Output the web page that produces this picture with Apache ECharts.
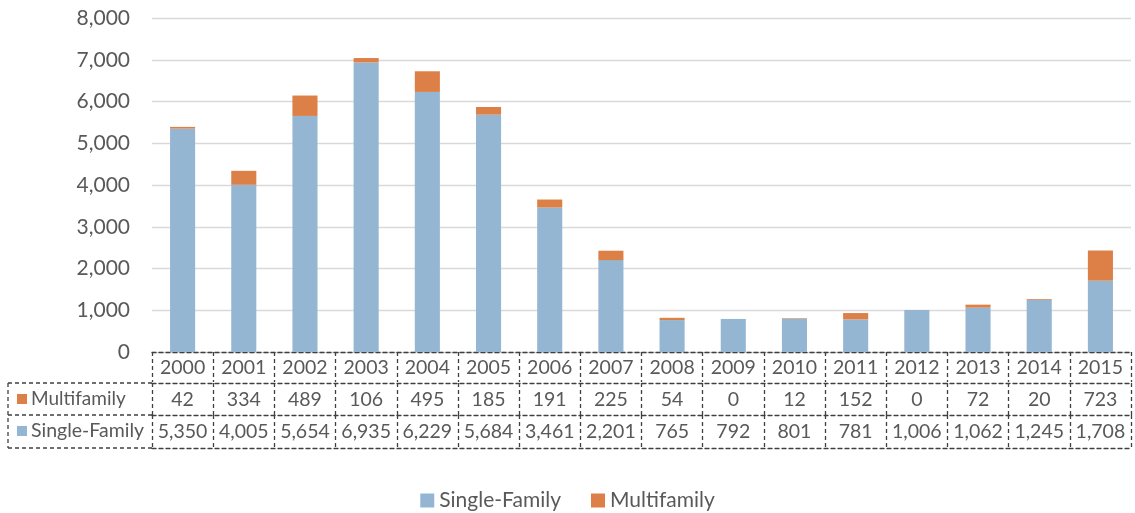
<!DOCTYPE html>
<html><head><meta charset="utf-8">
<script src="https://cdn.jsdelivr.net/npm/echarts@6/dist/echarts.min.js"></script>
<style>html,body{margin:0;padding:0;background:#fff}#c{width:1135px;height:513px}</style>
</head><body><div id="c"></div>
<script>
const years = ['2000','2001','2002','2003','2004','2005','2006','2007','2008','2009','2010','2011','2012','2013','2014','2015'];
const singleFamily = [5350,4005,5654,6935,6229,5684,3461,2201,765,792,801,781,1006,1062,1245,1708];
const multifamily = [42,334,489,106,495,185,191,225,54,0,12,152,0,72,20,723];
const yTicks = [0,1000,2000,3000,4000,5000,6000,7000,8000];

const FONT = 'Lato';
const TXT = '#595959';
const BLUE = '#94B6D2';
const ORANGE = '#DD8047';
const fmt = v => v.toLocaleString('en-US');
const dashLine = {show:true, lineStyle:{color:'#404040', type:[4,3], width:1.3}};
const GRID_TOP = 18, GRID_BOTTOM = 161, GRID_LEFT = 152, GRID_RIGHT = 4;
const ROW = 31;

function tableAxis(data, offset, tickLen, showLabels, margin){
  return {
    type:'category', data:data, position:'bottom', offset:offset,
    axisLine:dashLine,
    axisTick:{show:tickLen>0, length:tickLen, inside:false, lineStyle:{color:'#404040', type:[4,3], width:1.3}},
    axisLabel:{show:showLabels, interval:0, color:TXT, fontFamily:FONT, fontSize:19.5, margin:margin},
    splitLine:{show:false}
  };
}

const chart = echarts.init(document.getElementById('c'));
const H = 513;
const axisY = H - GRID_BOTTOM;
chart.setOption({
  animation:false,
  textStyle:{fontFamily:FONT},
  grid:{left:GRID_LEFT, right:GRID_RIGHT, top:GRID_TOP, bottom:GRID_BOTTOM, containLabel:false},
  legend:{
    top:485, left:'center', itemWidth:14, itemHeight:14, itemGap:30,
    icon:'rect',
    textStyle:{color:TXT, fontSize:21, fontFamily:FONT},
    data:['Single-Family','Multifamily']
  },
  xAxis:[
    tableAxis(years, 0, 30, true, 6),
    tableAxis(multifamily.map(fmt), ROW, 32, true, 7),
    tableAxis(singleFamily.map(fmt), ROW*2+1, 33, true, 7),
    tableAxis(years.map(()=>''), ROW*3+3, 0, false, 8)
  ],
  yAxis:{
    type:'value', min:0, max:8000, interval:1000,
    axisLine:{show:false}, axisTick:{show:false},
    axisLabel:{color:TXT, fontSize:21, fontFamily:FONT, margin:22, formatter:v=>fmt(v)},
    splitLine:{lineStyle:{color:'#D9D9D9', width:1.3}}
  },
  series:[
    {name:'Single-Family', type:'bar', stack:'t', data:singleFamily, barWidth:'41%', itemStyle:{color:BLUE}},
    {name:'Multifamily', type:'bar', stack:'t', data:multifamily, barWidth:'41%', itemStyle:{color:ORANGE}}
  ],
  graphic:[
    {type:'line', shape:{x1:8,y1:axisY+ROW,x2:GRID_LEFT,y2:axisY+ROW}, style:{stroke:'#404040', lineDash:[4,3], lineWidth:1.3}},
    {type:'line', shape:{x1:8,y1:axisY+ROW*2+1,x2:GRID_LEFT,y2:axisY+ROW*2+1}, style:{stroke:'#404040', lineDash:[4,3], lineWidth:1.3}},
    {type:'line', shape:{x1:8,y1:axisY+ROW*3+3,x2:GRID_LEFT,y2:axisY+ROW*3+3}, style:{stroke:'#404040', lineDash:[4,3], lineWidth:1.3}},
    {type:'line', shape:{x1:8,y1:axisY+ROW,x2:8,y2:axisY+ROW*3+3}, style:{stroke:'#404040', lineDash:[4,3], lineWidth:1.3}},
    {type:'rect', shape:{x:17,y:axisY+ROW+11,width:10,height:10}, style:{fill:ORANGE}},
    {type:'text', x:31, y:axisY+ROW+16, style:{text:'Multifamily', fill:TXT, font:'19px '+FONT, verticalAlign:'middle'}},
    {type:'rect', shape:{x:17,y:axisY+ROW*2+12,width:10,height:10}, style:{fill:BLUE}},
    {type:'text', x:31, y:axisY+ROW*2+17, style:{text:'Single-Family', fill:TXT, font:'19.5px '+FONT, verticalAlign:'middle'}}
  ]
});
</script></body></html>
